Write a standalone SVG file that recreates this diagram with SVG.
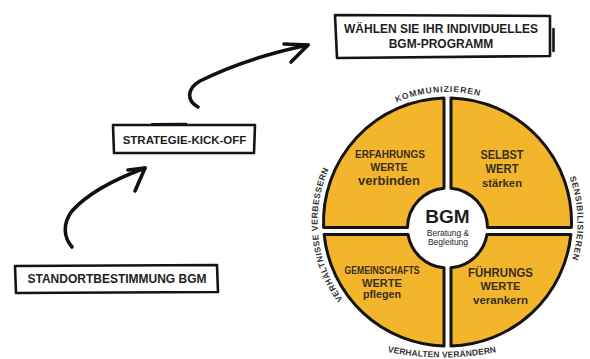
<svg xmlns="http://www.w3.org/2000/svg" width="590" height="359" viewBox="0 0 590 359">
<style>
.box{fill:none;stroke:#141414;stroke-width:2.6;stroke-linejoin:round;stroke-linecap:round}
.bt{font-family:"Liberation Sans",Arial,sans-serif;font-weight:bold;fill:#1e1e1e;text-anchor:middle}
.q{fill:#F2B52B;stroke:#141414;stroke-width:3;stroke-linejoin:round}
.qt{font-family:"Liberation Sans",Arial,sans-serif;font-weight:bold;fill:#3a2f1f;text-anchor:middle}
.ring{font-family:"Liberation Sans",Arial,sans-serif;font-size:8.5px;font-weight:bold;fill:#333;text-anchor:middle}
.arr{fill:none;stroke:#111;stroke-width:3.6;stroke-linecap:round;stroke-linejoin:round}
.c{font-family:"Liberation Sans",Arial,sans-serif;fill:#1e1e1e;text-anchor:middle}
</style>
<defs>
<path id="pTop" d="M349.09,137.06 A130,130 0 0 1 532.44,123.59"/>
<path id="pRight" d="M544.71,135.69 A130,130 0 0 1 549.38,302.74"/>
<path id="pLeft" d="M357.53,315.83 A130,130 0 0 1 339.47,149.68"/>
<path id="pBottom" d="M372,348.4 A275,275 0 0 0 512,348.4"/>
</defs>
<rect width="590" height="359" fill="#fff"/>

<g id="connectors">
<path class="arr" d="M72,247 C64,238 62,224 72,211 C88,193 118,178 145,168"/>
<path class="arr" d="M128,170 L145,168 L135,191"/>
<path class="arr" d="M198,107 C187,101 186,89 200,81 C230,66 270,53 308,45"/>
<path class="arr" d="M284,44 L308,45 L291,62"/>
</g>

<g id="node-standort">
<path class="box" d="M15,266 L217,265 L218,292 L16,293 Z"/>
<text class="bt" x="117" y="283" font-size="12">STANDORTBESTIMMUNG BGM</text>
</g>

<g id="node-kickoff">
<path class="box" d="M113,125 L255,125 L254,153 L114,153 Z"/>
<path class="box" d="M152,124.3 L186,124" stroke-width="2"/>
<text class="bt" x="184.5" y="144" font-size="11.5">STRATEGIE-KICK-OFF</text>
</g>

<g id="node-programm">
<path class="box" d="M335,15 L550,16 L550,56 L337,58 Z"/>
<path class="box" d="M553.5,29 L553.5,51"/>
<text class="bt" x="441" y="33" font-size="12">WÄHLEN SIE IHR INDIVIDUELLES</text>
<text class="bt" x="441" y="48" font-size="12">BGM-PROGRAMM</text>
</g>

<g id="node-erfahrung">
<path class="q" d="M444,98.05 A124,124 0 0 0 323.62,227.5 L407.5,227.5 A40,40 0 0 1 444,188.15 Z"/>
<text class="qt" x="390" y="158" font-size="11" textLength="70" lengthAdjust="spacingAndGlyphs">ERFAHRUNGS</text>
<text class="qt" x="389" y="171" font-size="11.5" textLength="37" lengthAdjust="spacingAndGlyphs">WERTE</text>
<text class="qt" x="389" y="185" font-size="12" textLength="62" lengthAdjust="spacingAndGlyphs">verbinden</text>
</g>

<g id="node-selbst">
<path class="q" d="M451,98.05 L451,188.15 A40,40 0 0 1 487.5,227.5 L571.38,227.5 A124,124 0 0 0 451,98.05 Z"/>
<text class="qt" x="502" y="159" font-size="12.5" textLength="43" lengthAdjust="spacingAndGlyphs">SELBST</text>
<text class="qt" x="502" y="173" font-size="12.5" textLength="33" lengthAdjust="spacingAndGlyphs">WERT</text>
<text class="qt" x="502" y="187" font-size="11" textLength="40" lengthAdjust="spacingAndGlyphs">stärken</text>
</g>

<g id="node-gemeinschaft">
<path class="q" d="M324.13,234.5 L408.03,234.5 A40,40 0 0 0 444,267.85 L444,345.95 A124,124 0 0 1 324.13,234.5 Z"/>
<text class="qt" x="382" y="274" font-size="10" textLength="75" lengthAdjust="spacingAndGlyphs">GEMEINSCHAFTS</text>
<text class="qt" x="382" y="287" font-size="11.5" textLength="40" lengthAdjust="spacingAndGlyphs">WERTE</text>
<text class="qt" x="382" y="298" font-size="11.5" textLength="38" lengthAdjust="spacingAndGlyphs">pflegen</text>
</g>

<g id="node-fuehrung">
<path class="q" d="M486.97,234.5 L570.87,234.5 A124,124 0 0 1 451,345.95 L451,267.85 A40,40 0 0 0 486.97,234.5 Z"/>
<text class="qt" x="500.5" y="277" font-size="12" textLength="65" lengthAdjust="spacingAndGlyphs">FÜHRUNGS</text>
<text class="qt" x="500.5" y="290" font-size="11.5" textLength="40" lengthAdjust="spacingAndGlyphs">WERTE</text>
<text class="qt" x="500.5" y="304" font-size="11.5" textLength="55" lengthAdjust="spacingAndGlyphs">verankern</text>
</g>

<g id="node-bgm">
<text class="c" x="447.5" y="223" font-size="19" font-weight="bold">BGM</text>
<text class="c" x="448" y="236" font-size="8.5">Beratung &amp;</text>
<text class="c" x="448" y="245" font-size="8.5">Begleitung</text>
</g>

<g id="ring-labels">
<text class="ring" letter-spacing="1"><textPath href="#pTop" startOffset="50%">KOMMUNIZIEREN</textPath></text>
<text class="ring" letter-spacing="0.7"><textPath href="#pRight" startOffset="50%">SENSIBILISIEREN</textPath></text>
<text class="ring" letter-spacing="0.5"><textPath href="#pLeft" startOffset="50%">VERHÄLTNISSE VERBESSERN</textPath></text>
<text class="ring" letter-spacing="0.1"><textPath href="#pBottom" startOffset="50%">VERHALTEN VERÄNDERN</textPath></text>
</g>
</svg>
